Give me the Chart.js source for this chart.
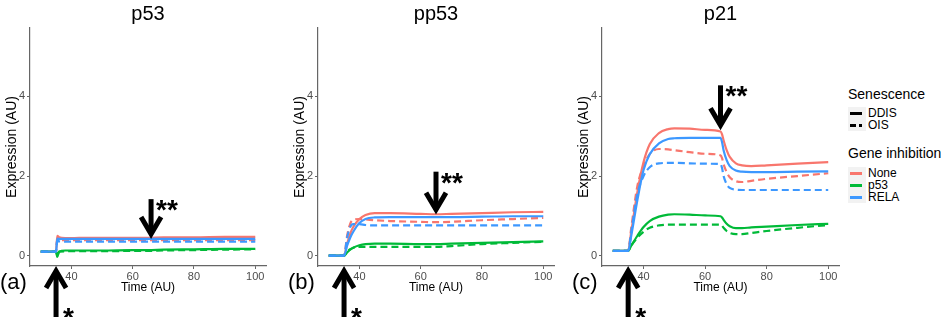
<!DOCTYPE html>
<html>
<head>
<meta charset="utf-8">
<script src="https://cdn.jsdelivr.net/npm/chart.js@4.4.0/dist/chart.umd.min.js"></script>
<style>
  body { margin: 0; background: #fff; width: 941px; height: 317px; overflow: hidden; position: relative;
         font-family: "Liberation Sans", Arial, sans-serif; color: #000; }
  canvas { position: absolute; top: 0; }
  .lg { position: absolute; white-space: nowrap; }
  .lg-title { font-size: 14px; line-height: 16px; }
  .lg-item { font-size: 12px; line-height: 12px; left: 868px; }
  .key { position: absolute; left: 848px; width: 18px; height: 12px; background: #f2f2f2; }
  .key span { position: absolute; left: 2px; top: 5px; width: 12px; height: 2.5px; }
</style>
</head>
<body>
<canvas id="panelA" width="288" height="317" style="left:0px"></canvas>
<canvas id="panelB" width="284" height="317" style="left:288px"></canvas>
<canvas id="panelC" width="273" height="317" style="left:572px"></canvas>

<div class="lg lg-title" style="left:848px; top:86px;">Senescence</div>
<div class="key" style="top:107px;"><span style="background:#000"></span></div>
<div class="lg lg-item" style="top:107px;">DDIS</div>
<div class="key" style="top:119px;"><span style="background:linear-gradient(to right,#000 0 6px,transparent 6px 9px,#000 9px 12px)"></span></div>
<div class="lg lg-item" style="top:119px;">OIS</div>

<div class="lg lg-title" style="left:848px; top:145px;">Gene inhibition</div>
<div class="key" style="top:167px;"><span style="background:#F8766D"></span></div>
<div class="lg lg-item" style="top:167px;">None</div>
<div class="key" style="top:179px;"><span style="background:#00BA38"></span></div>
<div class="lg lg-item" style="top:179px;">p53</div>
<div class="key" style="top:191px;"><span style="background:#3D98FF"></span></div>
<div class="lg lg-item" style="top:191px;">RELA</div>

<script>
// ---- data ----
const panelTitles = ['p53', 'pp53', 'p21'];
const panelTags = ['(a)', '(b)', '(c)'];
const inhibitions = ['None', 'p53', 'RELA'];
const xTicks = [40, 60, 80, 100];
const yTicks = [0, 2, 4];
const stimTime = 35;                  // "*"
const secondHitTime = [66, 65, 65];   // "**"
const secondArrowFrom = [1.42, 2.11, 4.28];
const secondArrowTo = [0.47, 1.08, 3.2];

// (a) p53
const p53Time      = [30, 35, 35.4, 36, 38, 40, 45, 50, 60, 65, 70, 80, 90, 100];
const p53NoneDDIS  = [0.1, 0.1, 0.5, 0.46, 0.44, 0.44, 0.45, 0.45, 0.45, 0.45, 0.46, 0.46, 0.47, 0.47];
const p53NoneOIS   = [0.1, 0.1, 0.42, 0.4, 0.39, 0.39, 0.39, 0.39, 0.39, 0.39, 0.39, 0.39, 0.39, 0.39];
const p53P53DDIS   = [0.1, 0.1, -0.03, 0.1, 0.13, 0.13, 0.13, 0.13, 0.14, 0.14, 0.15, 0.16, 0.17, 0.17];
const p53P53OIS    = [0.1, 0.1, 0.0, 0.1, 0.11, 0.11, 0.11, 0.11, 0.12, 0.12, 0.13, 0.14, 0.15, 0.16];
const p53RelaDDIS  = [0.1, 0.1, 0.43, 0.42, 0.42, 0.42, 0.42, 0.42, 0.42, 0.42, 0.42, 0.42, 0.42, 0.42];
const p53RelaOIS   = [0.1, 0.1, 0.37, 0.36, 0.35, 0.35, 0.35, 0.35, 0.35, 0.35, 0.35, 0.35, 0.35, 0.35];

// (b) pp53
const pp53Time     = [30, 35, 36, 37, 38, 40, 42, 45, 50, 60, 65, 70, 80, 90, 100];
const pp53NoneDDIS = [0, 0, 0.3, 0.55, 0.72, 0.92, 1.02, 1.07, 1.07, 1.05, 1.04, 1.05, 1.07, 1.09, 1.1];
const pp53NoneOIS  = [0, 0, 0.5, 0.8, 0.9, 0.92, 0.91, 0.89, 0.87, 0.85, 0.84, 0.85, 0.89, 0.92, 0.95];
const pp53P53DDIS  = [0, 0, 0.08, 0.15, 0.2, 0.26, 0.29, 0.3, 0.3, 0.29, 0.29, 0.3, 0.32, 0.34, 0.36];
const pp53P53OIS   = [0, 0, 0.1, 0.16, 0.2, 0.22, 0.22, 0.22, 0.22, 0.22, 0.22, 0.24, 0.29, 0.32, 0.35];
const pp53RelaDDIS = [0, 0, 0.25, 0.45, 0.6, 0.82, 0.92, 0.96, 0.97, 0.97, 0.97, 0.97, 0.98, 0.99, 0.99];
const pp53RelaOIS  = [0, 0, 0.45, 0.72, 0.79, 0.79, 0.77, 0.76, 0.76, 0.76, 0.76, 0.76, 0.76, 0.76, 0.76];

// (c) p21
const p21Time      = [30, 35, 36, 38, 40, 42, 45, 48, 50, 55, 60, 65, 65.5, 66, 67, 68, 70, 72, 75, 80, 90, 100];
const p21NoneDDIS  = [0.12, 0.12, 0.6, 1.6, 2.35, 2.8, 3.08, 3.18, 3.2, 3.19, 3.16, 3.12, 3.05, 2.9, 2.65, 2.48, 2.32, 2.27, 2.25, 2.27, 2.31, 2.35];
const p21NoneOIS   = [0.12, 0.12, 0.7, 1.75, 2.25, 2.55, 2.68, 2.67, 2.65, 2.6, 2.56, 2.52, 2.45, 2.3, 2.1, 1.97, 1.87, 1.85, 1.88, 1.93, 2.0, 2.07];
const p21P53DDIS   = [0.12, 0.12, 0.25, 0.5, 0.72, 0.87, 0.98, 1.03, 1.04, 1.03, 1.01, 0.99, 0.96, 0.9, 0.8, 0.74, 0.69, 0.69, 0.71, 0.73, 0.77, 0.8];
const p21P53OIS    = [0.12, 0.12, 0.25, 0.45, 0.6, 0.7, 0.76, 0.78, 0.78, 0.78, 0.78, 0.78, 0.75, 0.7, 0.62, 0.57, 0.54, 0.54, 0.57, 0.62, 0.7, 0.77];
const p21RelaDDIS  = [0.12, 0.12, 0.5, 1.4, 2.15, 2.55, 2.82, 2.93, 2.95, 2.96, 2.96, 2.96, 2.85, 2.65, 2.4, 2.25, 2.14, 2.11, 2.1, 2.1, 2.11, 2.12];
const p21RelaOIS   = [0.12, 0.12, 0.6, 1.55, 2.0, 2.22, 2.32, 2.33, 2.33, 2.32, 2.31, 2.3, 2.2, 2.0, 1.8, 1.7, 1.66, 1.65, 1.65, 1.65, 1.65, 1.65];

// ---- styles ----
const FONT = '"Liberation Sans", Arial, sans-serif';
const colors = { None: '#F8766D', p53: '#00BA38', RELA: '#3D98FF' };
const axisColor = '#666666';

const panels = [
  { id: 'panelA', time: p53Time,  padRight: 22,
    series: { None: [p53NoneDDIS, p53NoneOIS], p53: [p53P53DDIS, p53P53OIS], RELA: [p53RelaDDIS, p53RelaOIS] } },
  { id: 'panelB', time: pp53Time, padRight: 18,
    series: { None: [pp53NoneDDIS, pp53NoneOIS], p53: [pp53P53DDIS, pp53P53OIS], RELA: [pp53RelaDDIS, pp53RelaOIS] } },
  { id: 'panelC', time: p21Time,  padRight: 6,
    series: { None: [p21NoneDDIS, p21NoneOIS], p53: [p21P53DDIS, p21P53OIS], RELA: [p21RelaDDIS, p21RelaOIS] } }
];

function drawArrow(ctx, x, yFrom, yTo) {
  const dir = Math.sign(yTo - yFrom);
  const tip = yTo - dir * 3;
  ctx.lineWidth = 5;
  ctx.lineCap = 'butt';
  ctx.lineJoin = 'miter';
  ctx.miterLimit = 10;
  ctx.beginPath();
  ctx.moveTo(x, yFrom);
  ctx.lineTo(x, tip);
  ctx.stroke();
  ctx.beginPath();
  ctx.moveTo(x - 10, tip - dir * 17);
  ctx.lineTo(x, tip);
  ctx.lineTo(x + 10, tip - dir * 17);
  ctx.stroke();
}

// arrows, stars and panel letters
const marksPlugin = {
  id: 'panelMarks',
  afterDraw(chart, args, opts) {
    const { ctx, chartArea, scales: { x, y } } = chart;
    const i = opts.index;
    ctx.save();
    ctx.strokeStyle = '#000';
    ctx.fillStyle = '#000';

    const ux = x.getPixelForValue(stimTime);
    drawArrow(ctx, ux, chart.height + 2, chartArea.bottom + 2);
    ctx.font = 'bold 28px ' + FONT;
    ctx.textAlign = 'left';
    ctx.textBaseline = 'alphabetic';
    ctx.fillText('*', ux + 7, 327);

    const dx = x.getPixelForValue(secondHitTime[i]);
    const dTop = y.getPixelForValue(secondArrowFrom[i]);
    drawArrow(ctx, dx, dTop, y.getPixelForValue(secondArrowTo[i]));
    ctx.fillText('**', dx + 5, dTop + 20);

    ctx.font = '22px ' + FONT;
    ctx.textBaseline = 'middle';
    ctx.fillText(panelTags[i], chartArea.left - 30, 283);
    ctx.restore();
  }
};

function makeChart(panel, i) {
  const datasets = [];
  // RELA is drawn last (on top), as in the figure
  ['RELA', 'p53', 'None'].forEach(name => {
    ['DDIS', 'OIS'].forEach((type, k) => {
      datasets.push({
        label: name + ' ' + type,
        data: panel.time.map((t, j) => ({ x: t, y: panel.series[name][k][j] })),
        borderColor: colors[name],
        borderWidth: 2.2,
        borderDash: type === 'OIS' ? [7, 4] : [],
        pointRadius: 0,
        fill: false,
        cubicInterpolationMode: 'monotone'
      });
    });
  });

  new Chart(document.getElementById(panel.id), {
    type: 'line',
    data: { datasets },
    options: {
      responsive: false,
      animation: false,
      layout: { padding: { left: 0, right: panel.padRight, top: 0, bottom: 0 } },
      plugins: {
        legend: { display: false },
        tooltip: { enabled: false },
        title: {
          display: true, text: panelTitles[i], fullSize: false, color: '#000',
          font: { family: FONT, size: 20, weight: 'normal' }, padding: { top: 2, bottom: 2 }
        },
        panelMarks: { index: i }
      },
      scales: {
        x: {
          type: 'linear', min: 26.5, max: 103.5,
          afterBuildTicks: s => { s.ticks = xTicks.map(v => ({ value: v })); },
          afterFit: s => { s.height = 51; },
          border: { color: axisColor, width: 1.2 },
          grid: { drawOnChartArea: false, tickLength: 3, color: axisColor },
          ticks: { padding: 1, color: '#4D4D4D', font: { family: FONT, size: 11 } },
          title: { display: true, text: 'Time (AU)', color: '#000', font: { family: FONT, size: 12 }, padding: { top: 0, bottom: 22 } }
        },
        y: {
          type: 'linear', min: -0.26, max: 5.72,
          afterBuildTicks: s => { s.ticks = yTicks.map(v => ({ value: v })); },
          afterFit: s => { s.width = 30; },
          border: { color: axisColor, width: 1.2 },
          grid: { drawOnChartArea: false, tickLength: 3, color: axisColor },
          ticks: { padding: 2, color: '#4D4D4D', font: { family: FONT, size: 11 } },
          title: { display: true, text: 'Expression (AU)', color: '#000', font: { family: FONT, size: 14 }, padding: { top: 4, bottom: 0 } }
        }
      }
    },
    plugins: [marksPlugin]
  });
}

panels.forEach(makeChart);
</script>
</body>
</html>
